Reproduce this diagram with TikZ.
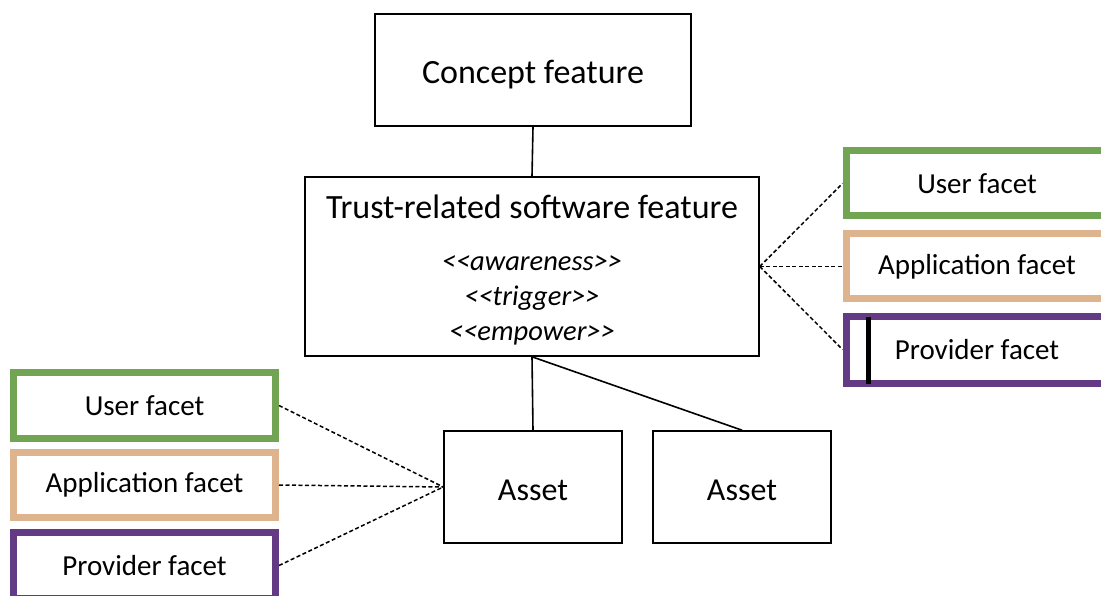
\documentclass[tikz,border=0pt]{standalone}
\usepackage{fontspec}
\setmainfont{Carlito}
\definecolor{fgreen}{HTML}{71A453}
\definecolor{ftan}{HTML}{DDB48D}
\definecolor{fpurple}{HTML}{643A85}
\begin{document}
\begin{tikzpicture}[x=1pt,y=-1pt,
  box/.style={draw=black,line width=1.6pt,rectangle,inner sep=0pt},
  facet/.style={draw,line width=7pt,rectangle,inner sep=0pt,minimum width=262pt,font=\fontsize{29}{34}\selectfont},
  link/.style={line width=1.6pt},
  dashlink/.style={line width=1.5pt,dash pattern=on 4pt off 2.5pt}]
\clip (0,0) rectangle (1101,596);
\fill[white] (0,0) rectangle (1101,596);
% main boxes
\node[box,minimum width=316pt,minimum height=112pt,text height=27pt,text depth=0pt,font=\fontsize{34}{40}\selectfont] (concept) at (533,70) {Concept feature};
\node[box,minimum width=454pt,minimum height=179pt] (trust) at (532,266.5) {};
\node[font=\fontsize{34}{40}\selectfont,inner sep=0pt] (trusttitle) at (532,207) {Trust-related software feature};
\node[font=\fontsize{28.5}{35}\selectfont\itshape,align=center,inner sep=0pt] (stereo) at (532,300) {<{}<awareness>{}>\\<{}<trigger>{}>\\<{}<empower>{}>};
\node[box,minimum width=178pt,minimum height=112pt,text height=26pt,text depth=0pt,font=\fontsize{32}{38}\selectfont] (asset1) at (533,487) {Asset};
\node[box,minimum width=178pt,minimum height=112pt,text height=26pt,text depth=0pt,font=\fontsize{32}{38}\selectfont] (asset2) at (742,487) {Asset};
% right facets
\node[facet,draw=fgreen,minimum height=65pt] (ruser) at (977,183.5) {User facet};
\node[facet,draw=ftan,minimum height=65pt] (rapp) at (977,266.5) {\raisebox{-2pt}{Application facet}};
\node[facet,draw=fpurple,minimum height=67pt] (rprov) at (977,349.5) {\raisebox{-1pt}{Provider facet}};
\draw[line width=5pt] (868.5,317) -- (868.5,383.5);
% left facets
\node[facet,draw=fgreen,minimum height=66pt] (luser) at (144.5,405.5) {User facet};
\node[facet,draw=ftan,minimum height=65pt] (lapp) at (144.5,485) {\raisebox{-2pt}{Application facet}};
\node[facet,draw=fpurple,minimum height=66pt] (lprov) at (144.5,565.5) {Provider facet};
% connectors
\draw[link] (concept.south) -- (trust.north);
\draw[link] (trust.south) -- (asset1.north);
\draw[link] (trust.south) -- (asset2.north);
\draw[dashlink] (trust.east) -- (ruser.west);
\draw[dashlink] (trust.east) -- (rapp.west);
\draw[dashlink] (trust.east) -- (rprov.west);
\draw[dashlink] (luser.east) -- (asset1.west);
\draw[dashlink] (lapp.east) -- (asset1.west);
\draw[dashlink] (lprov.east) -- (asset1.west);
\end{tikzpicture}
\end{document}
